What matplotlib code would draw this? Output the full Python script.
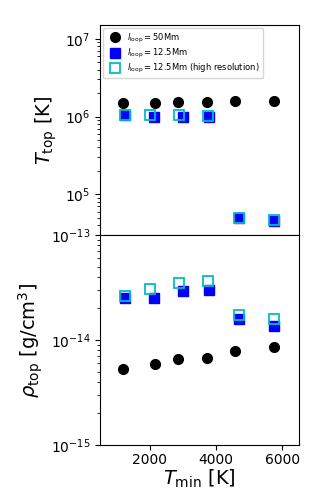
import numpy as np
import matplotlib
matplotlib.use("Agg")
import matplotlib.pyplot as plt

# Tmin values for each run [K]
tmin_50 = [1200, 2160, 2850, 3720, 4560, 5740]
tmin_125 = [1270, 2140, 2990, 3800, 4700, 5750]
tmin_hr = [1250, 2020, 2870, 3750, 4690, 5740]

# coronal temperature at the loop top [K]
ttop_50 = [1.50e6, 1.50e6, 1.55e6, 1.55e6, 1.57e6, 1.57e6]
ttop_125 = [1.04e6, 1.00e6, 1.00e6, 0.98e6, 4.97e4, 4.55e4]
ttop_hr = [1.06e6, 1.05e6, 1.06e6, 1.03e6, 5.0e4, 4.74e4]

# density at the loop top [g/cm^3]
rho_50 = [5.3e-15, 5.96e-15, 6.55e-15, 6.74e-15, 7.8e-15, 8.57e-15]
rho_125 = [2.5e-14, 2.53e-14, 2.91e-14, 2.97e-14, 1.57e-14, 1.36e-14]
rho_hr = [2.62e-14, 3.06e-14, 3.52e-14, 3.65e-14, 1.74e-14, 1.58e-14]

labels = [r"$l_{\rm loop}=50$Mm",
          r"$l_{\rm loop}=12.5$Mm",
          r"$l_{\rm loop}=12.5$Mm (high resolution)"]

fig = plt.figure(figsize=(3.33, 5.0), dpi=100)
ax1 = fig.add_axes([0.30, 0.53, 0.598, 0.42])
ax2 = fig.add_axes([0.30, 0.11, 0.598, 0.42], sharex=ax1)

ms = 7
for ax, y50, y125, yhr in [(ax1, ttop_50, ttop_125, ttop_hr),
                           (ax2, rho_50, rho_125, rho_hr)]:
    ax.plot(tmin_50, y50, "o", color="k", ms=ms, label=labels[0])
    ax.plot(tmin_125, y125, "s", color="b", ms=ms - 0.5, label=labels[1])
    ax.plot(tmin_hr, yhr, "s", mfc="none", mec="c", mew=1.3, ms=ms - 0.5,
            label=labels[2])
    ax.set_yscale("log")
    ax.tick_params(labelsize=10)

ax1.set_ylim(3e4, 1.5e7)
ax2.set_ylim(1e-15, 1e-13)
ax1.set_xlim(500, 6500)
ax1.set_xticks([2000, 4000, 6000])
plt.setp(ax1.get_xticklabels(), visible=False)
ax2.tick_params(axis="x", pad=2.5)

ax1.set_ylabel(r"$T_{\rm top}$ [K]", fontsize=14)
ax2.set_ylabel(r"$\rho_{\rm top}$ [g/cm$^3$]", fontsize=14)
ax2.set_xlabel(r"$T_{\rm min}$ [K]", fontsize=14, labelpad=0)

ax1.legend(loc="upper left", fontsize=6, handletextpad=0.5,
           borderaxespad=0.4, labelspacing=0.25)

fig.savefig("out.png", dpi=100)
